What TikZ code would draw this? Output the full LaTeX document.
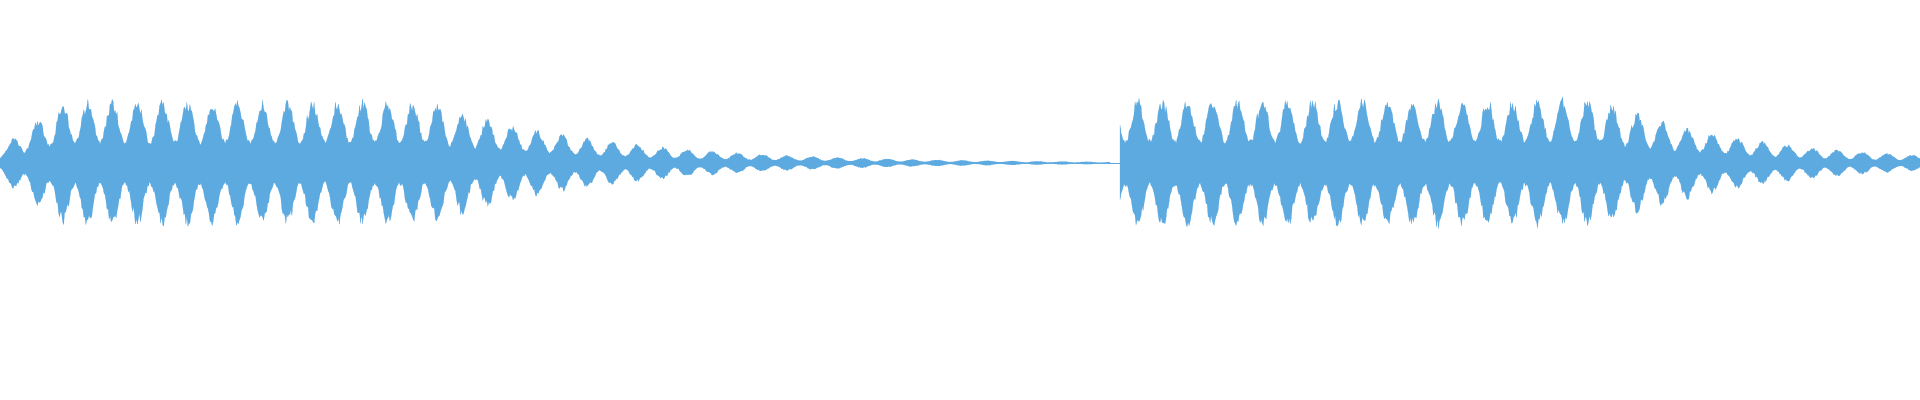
\documentclass[tikz,border=0pt]{standalone}
\definecolor{wave}{HTML}{5DAAE0}
\begin{document}
\begin{tikzpicture}[x=0.05cm, y=0.05cm,
  every path/.style={line width=0.3pt},
  wavefill/.style={fill=wave, draw=wave},
  declare function={
    bump(\t)=0.35+0.65*(sin(\t*7.2))^2;
    envL(\t)=min(16+\t*0.75, 64, 64*exp(-(\t-430)/170))*bump(\t);
    envR(\t)=min(66, 66*exp(-(\t-1600)/150))*bump(\t);
  }]
\useasboundingbox (0,0) rectangle (1920,400);
\pgfmathsetseed{7}
% centre line
\draw[wave] (0,237) -- (1920,237);
% first burst
\fill[wavefill] plot[domain=0:1110, samples=1100] (\x,{237+envL(\x)*(0.8+0.2*rnd)})
  -- plot[domain=1110:0, samples=1100] (\x,{237-envL(\x)*(0.8+0.2*rnd)}) -- cycle;
% second burst
\fill[wavefill] plot[domain=1120:1920, samples=800] (\x,{237+envR(\x)*(0.8+0.2*rnd)})
  -- plot[domain=1920:1120, samples=800] (\x,{237-envR(\x)*(0.8+0.2*rnd)}) -- cycle;
\end{tikzpicture}
\end{document}
